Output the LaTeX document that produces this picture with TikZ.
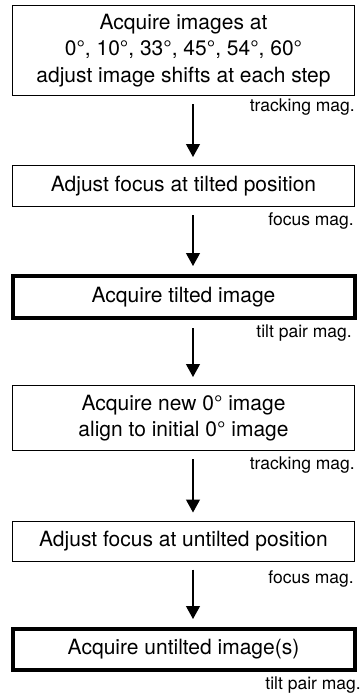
\documentclass[tikz,border=0pt]{standalone}
\usepackage{fontspec}
\setmainfont{TeX Gyre Heros}
\usetikzlibrary{arrows.meta,positioning,calc}

\begin{document}
\begin{tikzpicture}
[x=1pt,y=1pt,
    stepbox/.style={draw,line width=1pt,minimum width=342pt,inner sep=0pt,align=center,
        font=\fontsize{21}{26.5}\selectfont},
    keybox/.style={stepbox,line width=4pt},
    mag/.style={anchor=east,inner sep=0pt,font=\fontsize{17.5}{20}\selectfont},
    flow/.style={-{Triangle[length=13pt,width=14pt]},line width=1.2pt,shorten <=8pt,shorten >=8pt}]
\useasboundingbox (0,0) rectangle (363,-697);
%%%%%%%%%%
%% steps
\node (s1) [stepbox,minimum height=90pt] at (183.5,-50.5) {Acquire images at\\
    0°, 10°, 33°, 45°, 54°, 60°\\
    adjust image shifts at each step};
\node (s2) [stepbox,minimum height=41pt] at (183.5,-186) {Adjust focus at tilted position};
\node (s3) [keybox,minimum height=42pt] at (183.5,-297) {Acquire tilted image};
\node (s4) [stepbox,minimum height=65pt] at (183.5,-418) {Acquire new 0° image\\
    align to initial 0° image};
\node (s5) [stepbox,minimum height=40pt] at (183.5,-541) {Adjust focus at untilted position};
\node (s6) [keybox,minimum height=41pt] at (183.5,-649.5) {Acquire untilted image(s)};
%% magnifications
\node (m1) [mag] at (355,-107) {tracking mag.};
\node (m2) [mag] at (354,-221) {focus mag.};
\node (m3) [mag] at (352,-333) {tilt pair mag.};
\node (m4) [mag] at (355,-465) {tracking mag.};
\node (m5) [mag] at (354,-579) {focus mag.};
\node (m6) [mag] at (361,-685) {tilt pair mag.};
%% arrows
\draw[flow] ([xshift=9.5pt]s1.south) -- ([xshift=9.5pt]s2.north);
\draw[flow] ([xshift=9.5pt]s2.south) -- ([xshift=9.5pt]s3.north);
\draw[flow] ([xshift=9.5pt]s3.south) -- ([xshift=9.5pt]s4.north);
\draw[flow] ([xshift=9.5pt]s4.south) -- ([xshift=9.5pt]s5.north);
\draw[flow] ([xshift=9.5pt]s5.south) -- ([xshift=9.5pt]s6.north);
\end{tikzpicture}
\end{document}
